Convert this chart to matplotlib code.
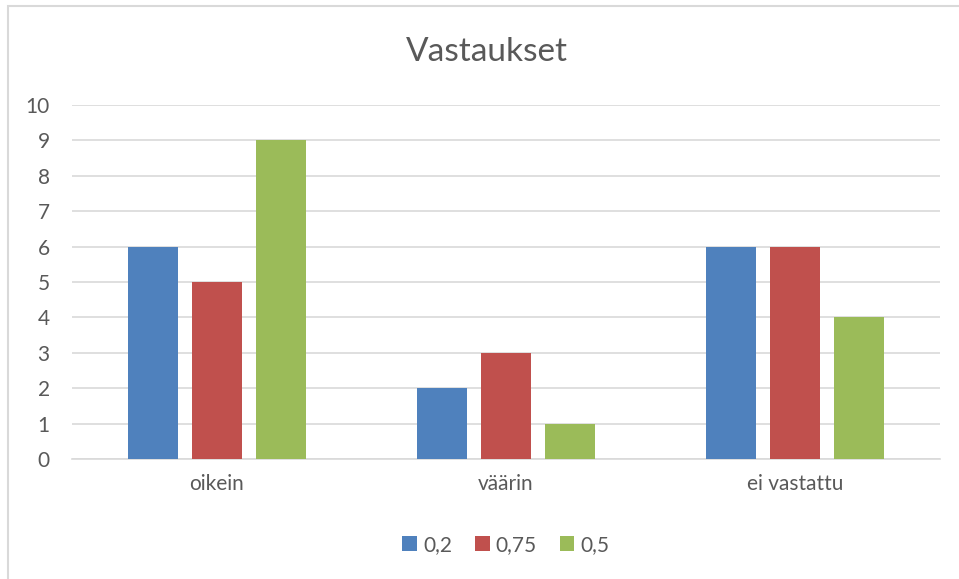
import numpy as np
import matplotlib.pyplot as plt
from matplotlib.patches import Rectangle

categories = ['oikein', 'väärin', 'ei vastattu']
series = ['0,2', '0,75', '0,5']
values_02 = [6, 2, 6]
values_075 = [5, 3, 6]
values_05 = [9, 1, 4]
colors = ['#4F81BD', '#C0504D', '#9BBB59']

plt.rcParams['font.family'] = ['Lato', 'DejaVu Sans']
text_col = '#595959'

fig = plt.figure(figsize=(9.59, 5.79), dpi=100)
# chart border (light gray, runs off right/bottom edge)
fig.patches.append(Rectangle((8 / 959, -0.1), 1.2, 1 - 6 / 579 + 0.1,
                             transform=fig.transFigure, fill=False,
                             edgecolor='#D9D9D9', linewidth=1.5))

ax = fig.add_axes([72 / 959, 1 - 459 / 579, 868 / 959, 354 / 579])

x = np.arange(len(categories))
step = 0.221
width = 0.173
for i, (vals, name) in enumerate(zip([values_02, values_075, values_05], series)):
    ax.bar(x + (i - 1) * step, vals, width, color=colors[i], label=name, zorder=3)

ax.set_xlim(-0.5, 2.5)
ax.set_ylim(0, 10)
ax.set_yticks(range(0, 11))
ax.set_xticks(x)
ax.set_xticklabels(categories)
ax.yaxis.grid(True, color='#D9D9D9', linewidth=1.2, zorder=0)
for s in ['top', 'right', 'left']:
    ax.spines[s].set_visible(False)
ax.spines['bottom'].set_color('#D9D9D9')
ax.spines['bottom'].set_linewidth(1.2)
ax.tick_params(axis='both', length=0, labelsize=15, colors=text_col)
ax.tick_params(axis='y', pad=16)
ax.tick_params(axis='x', pad=11)

fig.text(487 / 959, 1 - 52 / 579, 'Vastaukset', ha='center', va='center',
         fontsize=24, color=text_col)

ax.legend(loc='center', bbox_to_anchor=(0.5, (459 - 545) / 354), ncol=3,
          frameon=False, fontsize=15, labelcolor=text_col, handlelength=0.7,
          handleheight=0.7, handletextpad=0.3, columnspacing=1.1)

plt.savefig('out.png', dpi=100)
